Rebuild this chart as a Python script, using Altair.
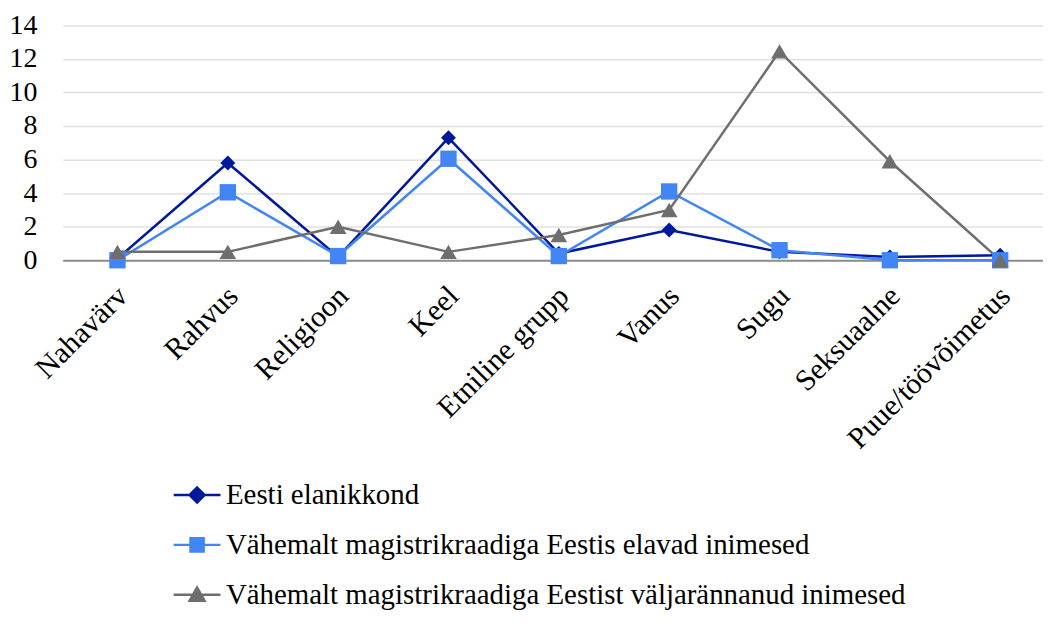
import altair as alt
import pandas as pd
import json

categories = ["Nahavärv", "Rahvus", "Religioon", "Keel", "Etniline grupp",
              "Vanus", "Sugu", "Seksuaalne", "Puue/töövõimetus"]
series_names = ["Eesti elanikkond",
                "Vähemalt magistrikraadiga Eestis elavad inimesed",
                "Vähemalt magistrikraadiga Eestist väljarännanud inimesed"]
eesti = [0.1, 5.8, 0.2, 7.3, 0.4, 1.8, 0.5, 0.2, 0.3]
eestis_elavad = [0.0, 4.05, 0.25, 6.05, 0.25, 4.1, 0.6, 0.0, 0.0]
valjarannanud = [0.5, 0.5, 2.0, 0.5, 1.5, 3.0, 12.45, 5.9, 0.0]
colors = ["#00189C", "#4285F4", "#6E6E6E"]
shapes = ["diamond", "square", "triangle-up"]
marker_sizes = [225, 270, 280]
legend_shapes = [
    "M-1,0H1M0,-0.32L0.32,0L0,0.32L-0.32,0Z",
    "M-1,0H1M-0.28,-0.28H0.28V0.28H-0.28Z",
    "M-1,0H1M0,-0.3L0.32,0.26H-0.32Z",
]

rows = []
for name, vals in zip(series_names, [eesti, eestis_elavad, valjarannanud]):
    for i, (c, v) in enumerate(zip(categories, vals)):
        rows.append({"kategooria": c, "vaartus": v, "seeria": name, "idx": i})
df = pd.DataFrame(rows)

FONT = "Liberation Serif, Times New Roman, serif"

label_expr = json.dumps(categories, ensure_ascii=False) + "[datum.value]"

x = alt.X("idx:Q", title=None,
          scale=alt.Scale(domain=[-0.496, 8.388], nice=False, zero=False),
          axis=alt.Axis(values=list(range(len(categories))), labelExpr=label_expr,
                        labelAngle=-45, labelAlign="right", labelBaseline="middle",
                        labelFont=FONT, labelFontSize=30, labelColor="black",
                        labelPadding=31, labelOffset=5, ticks=False, domainColor="#8C8C8C",
                        domainWidth=2, grid=False, labelOverlap=False,
                        labelLimit=400, labelBound=False, labelFlush=False))
y = alt.Y("vaartus:Q", title=None,
          scale=alt.Scale(domain=[0, 14], nice=False),
          axis=alt.Axis(values=list(range(0, 15, 2)), labelFont=FONT, labelFontSize=28,
                        labelColor="black", ticks=False, domain=False,
                        gridColor="#E0E0E0", gridWidth=1.5, labelPadding=26))

color_scale = alt.Scale(domain=series_names, range=colors)

leg = alt.Legend(
    title=None, orient="none", direction="vertical",
    legendX=110, legendY=447,
    labelFont=FONT, labelFontSize=29, labelColor="black",
    symbolSize=2209, rowPadding=10, labelOffset=4, labelLimit=900,
    symbolStrokeWidth=2.5, symbolOpacity=1)

base = alt.Chart(df).encode(x=x, y=y)
lines = base.mark_line(strokeWidth=2.5).encode(
    color=alt.Color("seeria:N", scale=color_scale, legend=leg),
    order=alt.Order("idx:Q"),
)
point_layers = [
    base.transform_filter(alt.datum.seeria == name).mark_point(
        filled=True, size=sz, opacity=1, shape=shp
    ).encode(color=alt.Color("seeria:N", scale=color_scale, legend=leg))
    for name, shp, sz in zip(series_names, shapes, marker_sizes)
]

legend_layer = base.mark_point(size=1, strokeWidth=2.5, opacity=0.001, filled=False).encode(
    color=alt.Color("seeria:N", scale=color_scale, legend=leg),
    fill=alt.Fill("seeria:N", scale=alt.Scale(domain=series_names, range=colors), legend=leg),
    shape=alt.Shape("seeria:N", scale=alt.Scale(domain=series_names, range=legend_shapes), legend=leg),
)

chart = alt.layer(lines, *point_layers, legend_layer).properties(
    width=985, height=236,
    autosize=alt.AutoSizeParams(type="none"),
    padding={"left": 55, "top": 16, "right": 0, "bottom": 355},
).configure(font=FONT).configure_axis(
    labelFont=FONT
).configure_legend(
    labelFont=FONT
).configure_view(stroke=None)

chart.save("out.html", embed_options={"renderer": "svg", "actions": False})
